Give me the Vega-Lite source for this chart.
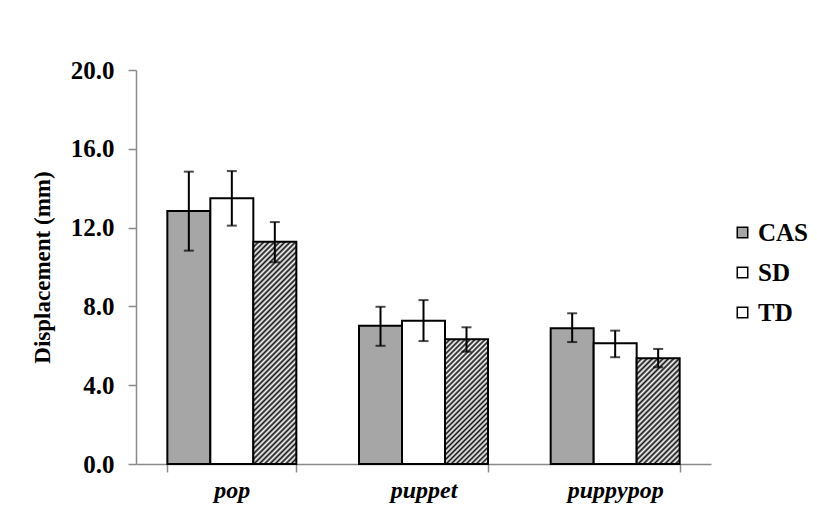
{
  "$schema": "https://vega.github.io/schema/vega-lite/v6.json",
  "width": 575,
  "height": 394,
  "autosize": {"type": "none"},
  "padding": {"left": 136, "top": 70, "right": 106, "bottom": 67},
  "background": "white",
  "config": {
    "view": {"stroke": null},
    "font": "Liberation Serif"
  },
  "data": {
    "values": [
      {"word": "pop", "group": "CAS", "value": 12.84, "lo": 10.83, "hi": 14.84},
      {"word": "pop", "group": "SD", "value": 13.49, "lo": 12.10, "hi": 14.87},
      {"word": "pop", "group": "TD", "value": 11.28, "lo": 10.24, "hi": 12.28},
      {"word": "puppet", "group": "CAS", "value": 7.02, "lo": 6.00, "hi": 7.98},
      {"word": "puppet", "group": "SD", "value": 7.27, "lo": 6.24, "hi": 8.32},
      {"word": "puppet", "group": "TD", "value": 6.33, "lo": 5.70, "hi": 6.94},
      {"word": "puppypop", "group": "CAS", "value": 6.89, "lo": 6.19, "hi": 7.65},
      {"word": "puppypop", "group": "SD", "value": 6.13, "lo": 5.42, "hi": 6.77},
      {"word": "puppypop", "group": "TD", "value": 5.37, "lo": 4.91, "hi": 5.84}
    ]
  },
  "encoding": {
    "x": {
      "field": "word", "type": "nominal", "sort": ["pop", "puppet", "puppypop"],
      "scale": {"paddingInner": 0.327, "paddingOuter": 0.1635},
      "axis": {
        "title": null, "labelAngle": 0, "tickBand": "extent",
        "domainColor": "#8a8a8a", "domainWidth": 1.5, "tickColor": "#8a8a8a", "tickWidth": 1.5, "tickSize": 8,
        "labelFont": "Liberation Serif", "labelFontSize": 24, "labelFontWeight": "bold", "labelFontStyle": "italic",
        "labelColor": "black", "labelPadding": 6
      }
    },
    "xOffset": {"field": "group", "type": "nominal", "sort": ["CAS", "SD", "TD"], "scale": {"paddingInner": 0, "paddingOuter": 0}}
  },
  "layer": [
    {
      "mark": {"type": "bar", "stroke": "black", "strokeWidth": 2},
      "encoding": {
        "y": {
          "field": "value", "type": "quantitative",
          "scale": {"domain": [0, 20], "nice": false},
          "axis": {
            "title": "Displacement (mm)", "values": [0, 4, 8, 12, 16, 20], "format": ".1f", "grid": false,
            "domainColor": "#8a8a8a", "domainWidth": 1.5, "tickColor": "#8a8a8a", "tickWidth": 1.5, "tickSize": 8,
            "labelFont": "Liberation Serif", "labelFontSize": 25, "labelFontWeight": "bold", "labelColor": "black", "labelPadding": 14,
            "titleFont": "Liberation Serif", "titleFontSize": 23, "titleFontWeight": "bold", "titleColor": "black", "titlePadding": 16
          }
        },
        "fill": {
          "field": "group", "type": "nominal",
          "scale": {
            "domain": ["CAS", "SD", "TD"],
            "range": ["#a6a6a6", "#ffffff", "#ffffff"]
          },
          "legend": {
            "title": null, "orient": "none", "legendX": 594, "legendY": 150, "padding": 0,
            "symbolSize": 110, "symbolStrokeColor": "black", "symbolStrokeWidth": 1.5,
            "labelFont": "Liberation Serif", "labelFontSize": 25, "labelFontWeight": "bold", "labelColor": "black",
            "labelOffset": 3, "rowPadding": 14,
            "encode": {
              "symbols": {
                "update": {
                  "fill": {
                    "condition": {"test": "datum.value === 'CAS'", "value": "#a6a6a6"},
                    "value": "#ffffff"
                  },
                  "shape": {
                    "condition": {"test": "datum.value === 'TD'", "value": "M-1,-1H1V1H-1Z M-1,1L1,-1 M-1,0L0,-1 M0,1L1,0"},
                    "value": "M-1,-1H1V1H-1Z"
                  },
                  "stroke": {"value": "black"},
                  "strokeWidth": {"value": 1.5}
                }
              }
            }
          },
          "condition": [
            {"test": "datum.group === 'TD' && datum.word === 'pop'", "value": {"gradient": "linear", "x1": 0, "y1": 0, "x2": 0.2226, "y2": 1.1504, "stops": [
              {"offset":0,"color":"#111"},{"offset":0.01,"color":"#fff"},{"offset":0.02,"color":"#111"},{"offset":0.03,"color":"#fff"},{"offset":0.04,"color":"#111"},{"offset":0.05,"color":"#fff"},{"offset":0.06,"color":"#111"},{"offset":0.07,"color":"#fff"},{"offset":0.08,"color":"#111"},{"offset":0.09,"color":"#fff"},
              {"offset":0.10,"color":"#111"},{"offset":0.11,"color":"#fff"},{"offset":0.12,"color":"#111"},{"offset":0.13,"color":"#fff"},{"offset":0.14,"color":"#111"},{"offset":0.15,"color":"#fff"},{"offset":0.16,"color":"#111"},{"offset":0.17,"color":"#fff"},{"offset":0.18,"color":"#111"},{"offset":0.19,"color":"#fff"},
              {"offset":0.20,"color":"#111"},{"offset":0.21,"color":"#fff"},{"offset":0.22,"color":"#111"},{"offset":0.23,"color":"#fff"},{"offset":0.24,"color":"#111"},{"offset":0.25,"color":"#fff"},{"offset":0.26,"color":"#111"},{"offset":0.27,"color":"#fff"},{"offset":0.28,"color":"#111"},{"offset":0.29,"color":"#fff"},
              {"offset":0.30,"color":"#111"},{"offset":0.31,"color":"#fff"},{"offset":0.32,"color":"#111"},{"offset":0.33,"color":"#fff"},{"offset":0.34,"color":"#111"},{"offset":0.35,"color":"#fff"},{"offset":0.36,"color":"#111"},{"offset":0.37,"color":"#fff"},{"offset":0.38,"color":"#111"},{"offset":0.39,"color":"#fff"},
              {"offset":0.40,"color":"#111"},{"offset":0.41,"color":"#fff"},{"offset":0.42,"color":"#111"},{"offset":0.43,"color":"#fff"},{"offset":0.44,"color":"#111"},{"offset":0.45,"color":"#fff"},{"offset":0.46,"color":"#111"},{"offset":0.47,"color":"#fff"},{"offset":0.48,"color":"#111"},{"offset":0.49,"color":"#fff"},
              {"offset":0.50,"color":"#111"},{"offset":0.51,"color":"#fff"},{"offset":0.52,"color":"#111"},{"offset":0.53,"color":"#fff"},{"offset":0.54,"color":"#111"},{"offset":0.55,"color":"#fff"},{"offset":0.56,"color":"#111"},{"offset":0.57,"color":"#fff"},{"offset":0.58,"color":"#111"},{"offset":0.59,"color":"#fff"},
              {"offset":0.60,"color":"#111"},{"offset":0.61,"color":"#fff"},{"offset":0.62,"color":"#111"},{"offset":0.63,"color":"#fff"},{"offset":0.64,"color":"#111"},{"offset":0.65,"color":"#fff"},{"offset":0.66,"color":"#111"},{"offset":0.67,"color":"#fff"},{"offset":0.68,"color":"#111"},{"offset":0.69,"color":"#fff"},
              {"offset":0.70,"color":"#111"},{"offset":0.71,"color":"#fff"},{"offset":0.72,"color":"#111"},{"offset":0.73,"color":"#fff"},{"offset":0.74,"color":"#111"},{"offset":0.75,"color":"#fff"},{"offset":0.76,"color":"#111"},{"offset":0.77,"color":"#fff"},{"offset":0.78,"color":"#111"},{"offset":0.79,"color":"#fff"},
              {"offset":0.80,"color":"#111"},{"offset":0.81,"color":"#fff"},{"offset":0.82,"color":"#111"},{"offset":0.83,"color":"#fff"},{"offset":0.84,"color":"#111"},{"offset":0.85,"color":"#fff"},{"offset":0.86,"color":"#111"},{"offset":0.87,"color":"#fff"},{"offset":0.88,"color":"#111"},{"offset":0.89,"color":"#fff"},
              {"offset":0.90,"color":"#111"},{"offset":0.91,"color":"#fff"},{"offset":0.92,"color":"#111"},{"offset":0.93,"color":"#fff"},{"offset":0.94,"color":"#111"},{"offset":0.95,"color":"#fff"},{"offset":0.96,"color":"#111"},{"offset":0.97,"color":"#fff"},{"offset":0.98,"color":"#111"},{"offset":0.99,"color":"#fff"}]}},
            {"test": "datum.group === 'TD' && datum.word === 'puppet'", "value": {"gradient": "linear", "x1": 0, "y1": 0, "x2": 0.4144, "y2": 1.2019, "stops": [
              {"offset":0,"color":"#111"},{"offset":0.015,"color":"#fff"},{"offset":0.03,"color":"#111"},{"offset":0.045,"color":"#fff"},{"offset":0.06,"color":"#111"},{"offset":0.075,"color":"#fff"},{"offset":0.09,"color":"#111"},{"offset":0.105,"color":"#fff"},{"offset":0.12,"color":"#111"},{"offset":0.135,"color":"#fff"},
              {"offset":0.15,"color":"#111"},{"offset":0.165,"color":"#fff"},{"offset":0.18,"color":"#111"},{"offset":0.195,"color":"#fff"},{"offset":0.21,"color":"#111"},{"offset":0.225,"color":"#fff"},{"offset":0.24,"color":"#111"},{"offset":0.255,"color":"#fff"},{"offset":0.27,"color":"#111"},{"offset":0.285,"color":"#fff"},
              {"offset":0.3,"color":"#111"},{"offset":0.315,"color":"#fff"},{"offset":0.33,"color":"#111"},{"offset":0.345,"color":"#fff"},{"offset":0.36,"color":"#111"},{"offset":0.375,"color":"#fff"},{"offset":0.39,"color":"#111"},{"offset":0.405,"color":"#fff"},{"offset":0.42,"color":"#111"},{"offset":0.435,"color":"#fff"},
              {"offset":0.45,"color":"#111"},{"offset":0.465,"color":"#fff"},{"offset":0.48,"color":"#111"},{"offset":0.495,"color":"#fff"},{"offset":0.51,"color":"#111"},{"offset":0.525,"color":"#fff"},{"offset":0.54,"color":"#111"},{"offset":0.555,"color":"#fff"},{"offset":0.57,"color":"#111"},{"offset":0.585,"color":"#fff"},
              {"offset":0.6,"color":"#111"},{"offset":0.615,"color":"#fff"},{"offset":0.63,"color":"#111"},{"offset":0.645,"color":"#fff"},{"offset":0.66,"color":"#111"},{"offset":0.675,"color":"#fff"},{"offset":0.69,"color":"#111"},{"offset":0.705,"color":"#fff"},{"offset":0.72,"color":"#111"},{"offset":0.735,"color":"#fff"},
              {"offset":0.75,"color":"#111"},{"offset":0.765,"color":"#fff"},{"offset":0.78,"color":"#111"},{"offset":0.795,"color":"#fff"},{"offset":0.81,"color":"#111"},{"offset":0.825,"color":"#fff"},{"offset":0.84,"color":"#111"},{"offset":0.855,"color":"#fff"},{"offset":0.87,"color":"#111"},{"offset":0.885,"color":"#fff"},
              {"offset":0.9,"color":"#111"},{"offset":0.915,"color":"#fff"},{"offset":0.93,"color":"#111"},{"offset":0.945,"color":"#fff"},{"offset":0.96,"color":"#111"},{"offset":0.975,"color":"#fff"},{"offset":0.99,"color":"#111"}]}},
            {"test": "datum.group === 'TD' && datum.word === 'puppypop'", "value": {"gradient": "linear", "x1": 0, "y1": 0, "x2": 0.4906, "y2": 1.2070, "stops": [
              {"offset":0,"color":"#111"},{"offset":0.018,"color":"#fff"},{"offset":0.036,"color":"#111"},{"offset":0.054,"color":"#fff"},{"offset":0.072,"color":"#111"},{"offset":0.09,"color":"#fff"},{"offset":0.108,"color":"#111"},{"offset":0.126,"color":"#fff"},{"offset":0.144,"color":"#111"},{"offset":0.162,"color":"#fff"},
              {"offset":0.18,"color":"#111"},{"offset":0.198,"color":"#fff"},{"offset":0.216,"color":"#111"},{"offset":0.234,"color":"#fff"},{"offset":0.252,"color":"#111"},{"offset":0.27,"color":"#fff"},{"offset":0.288,"color":"#111"},{"offset":0.306,"color":"#fff"},{"offset":0.324,"color":"#111"},{"offset":0.342,"color":"#fff"},
              {"offset":0.36,"color":"#111"},{"offset":0.378,"color":"#fff"},{"offset":0.396,"color":"#111"},{"offset":0.414,"color":"#fff"},{"offset":0.432,"color":"#111"},{"offset":0.45,"color":"#fff"},{"offset":0.468,"color":"#111"},{"offset":0.486,"color":"#fff"},{"offset":0.504,"color":"#111"},{"offset":0.522,"color":"#fff"},
              {"offset":0.54,"color":"#111"},{"offset":0.558,"color":"#fff"},{"offset":0.576,"color":"#111"},{"offset":0.594,"color":"#fff"},{"offset":0.612,"color":"#111"},{"offset":0.63,"color":"#fff"},{"offset":0.648,"color":"#111"},{"offset":0.666,"color":"#fff"},{"offset":0.684,"color":"#111"},{"offset":0.702,"color":"#fff"},
              {"offset":0.72,"color":"#111"},{"offset":0.738,"color":"#fff"},{"offset":0.756,"color":"#111"},{"offset":0.774,"color":"#fff"},{"offset":0.792,"color":"#111"},{"offset":0.81,"color":"#fff"},{"offset":0.828,"color":"#111"},{"offset":0.846,"color":"#fff"},{"offset":0.864,"color":"#111"},{"offset":0.882,"color":"#fff"},
              {"offset":0.9,"color":"#111"},{"offset":0.918,"color":"#fff"},{"offset":0.936,"color":"#111"},{"offset":0.954,"color":"#fff"},{"offset":0.972,"color":"#111"},{"offset":0.99,"color":"#fff"}]}}
          ]
        }
      }
    },
    {
      "mark": {"type": "rule", "color": "black", "strokeWidth": 2},
      "encoding": {
        "y": {"field": "lo", "type": "quantitative"},
        "y2": {"field": "hi"}
      }
    },
    {
      "mark": {"type": "tick", "color": "black", "thickness": 2, "size": 10, "orient": "horizontal"},
      "encoding": {"y": {"field": "lo", "type": "quantitative"}}
    },
    {
      "mark": {"type": "tick", "color": "black", "thickness": 2, "size": 10, "orient": "horizontal"},
      "encoding": {"y": {"field": "hi", "type": "quantitative"}}
    }
  ]
}
